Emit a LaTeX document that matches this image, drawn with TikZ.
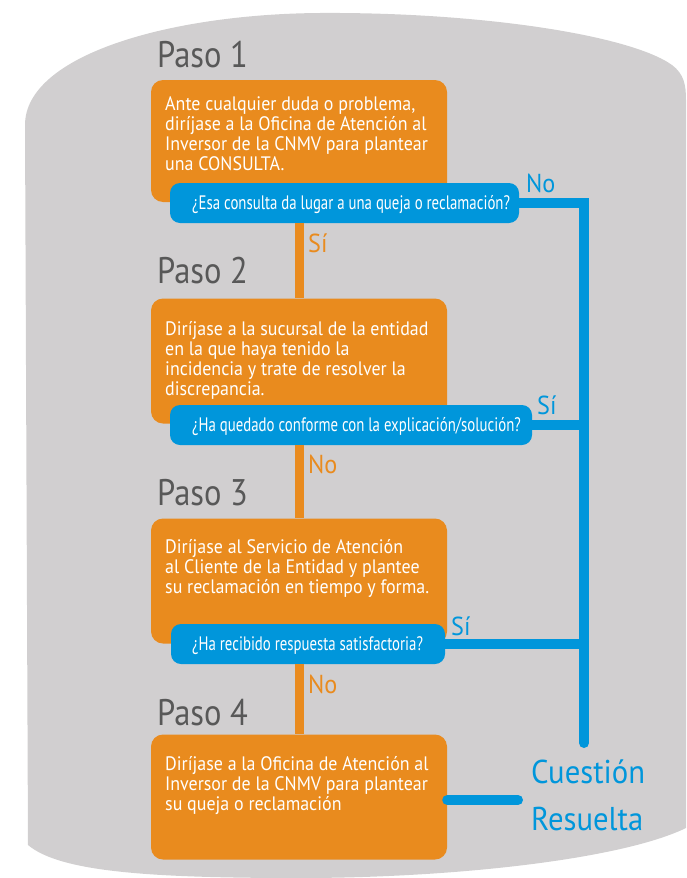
\documentclass[tikz,border=0pt]{standalone}
\usepackage{fontspec}
\setmainfont[FakeStretch=0.93]{PT Sans}
\newfontfamily\boxfont[FakeStretch=0.92]{PT Sans}
\newfontfamily\barfont[FakeStretch=0.76]{PT Sans}
\newfontfamily\pasofont[FakeStretch=0.88]{PT Sans}
\definecolor{bggray}{RGB}{209,207,208}
\definecolor{orng}{RGB}{233,139,30}
\definecolor{blu}{RGB}{0,150,219}
\definecolor{pasogray}{RGB}{88,88,88}
\tikzset{
  obox/.style={fill=orng, rounded corners=12pt, draw=none, minimum width=296pt, inner sep=0pt},
  qbar/.style={fill=blu, rounded corners=10pt, draw=none, minimum height=40pt, inner sep=0pt},
  boxtext/.style={anchor=base west, inner sep=0pt, text=white, font=\boxfont\fontsize{19.5}{20}\selectfont},
  qtext/.style={anchor=base west, inner sep=0pt, text=white, font=\barfont\fontsize{19.5}{20}\selectfont},
  pasolabel/.style={anchor=base west, inner sep=0pt, text=pasogray, font=\pasofont\fontsize{37}{40}\selectfont},
  olabel/.style={anchor=base west, inner sep=0pt, text=orng, font=\fontsize{26}{28}\selectfont},
  blabel/.style={anchor=base west, inner sep=0pt, text=blu, font=\fontsize{26}{28}\selectfont},
  reslabel/.style={anchor=base west, inner sep=0pt, text=blu, font=\fontsize{33}{36}\selectfont},
  oline/.style={draw=orng, line width=9pt},
  bline/.style={draw=blu, line width=10pt}
}
\begin{document}
\begin{tikzpicture}[x=1pt,y=-1pt]
\useasboundingbox (0,0) rectangle (686,878);
% background blob
\fill[bggray] (28,845) -- (25,125)
  .. controls (25,55) and (170,14) .. (320,13)
  .. controls (480,12) and (630,35) .. (672,65)
  .. controls (684,74) and (686,85) .. (686,100)
  -- (686,828)
  .. controls (620,860) and (450,878) .. (300,878)
  .. controls (150,878) and (60,872) .. (28,845) -- cycle;

% step labels
\node[pasolabel] (p1) at (157,67) {Paso 1};
\node[pasolabel] (p2) at (157,283) {Paso 2};
\node[pasolabel] (p3) at (157,505) {Paso 3};
\node[pasolabel] (p4) at (157,725) {Paso 4};

% orange boxes
\node[obox, minimum height=122pt] (b1) at (299,141) {};
\node[obox, minimum height=125pt] (b2) at (299,361) {};
\node[obox, minimum height=125pt] (b3) at (299,581) {};
\node[obox, minimum height=125pt] (b4) at (299,797) {};

% box texts
\node[boxtext] (t1) at (165,110) {\parbox[t]{280pt}{\raggedright Ante cualquier duda o problema,\\ diríjase a la Oficina de Atención al\\ Inversor de la CNMV para plantear\\ una CONSULTA.}};
\node[boxtext] (t2) at (165,335) {\parbox[t]{280pt}{\raggedright Diríjase a la sucursal de la entidad\\ en la que haya tenido la\\ incidencia y trate de resolver la\\ discrepancia.}};
\node[boxtext] (t3) at (165,553) {\parbox[t]{280pt}{\raggedright Diríjase al Servicio de Atención\\ al Cliente de la Entidad y plantee\\ su reclamación en tiempo y forma.}};
\node[boxtext] (t4) at (165,770) {\parbox[t]{280pt}{\raggedright Diríjase a la Oficina de Atención al\\ Inversor de la CNMV para plantear\\ su queja o reclamación}};

% question bars
\node[qbar, minimum width=349pt] (q1) at (344.5,203) {};
\node[qbar, minimum width=362pt] (q2) at (351,425) {};
\node[qbar, minimum width=274pt] (q3) at (308,644) {};
\node[qtext] (q1t) at (192,209.5) {¿Esa consulta da lugar a una queja o reclamación?};
\node[qtext] (q2t) at (192,431.5) {¿Ha quedado conforme con la explicación/solución?};
\node[qtext] (q3t) at (192,650.5) {¿Ha recibido respuesta satisfactoria?};

% trunk coordinates
\coordinate (trtop) at (584,203);
\coordinate (trbot) at (584,743);
\coordinate (stubend) at (518,800);

% orange connectors
\draw[oline] (b1.south |- q1.south) -- (b2.north);
\draw[oline] (b2.south |- q2.south) -- (b3.north);
\draw[oline] (b3.south |- q3.south) -- (b4.north);

% blue connectors
\draw[bline, line cap=round] (q1.east) -- (trtop) -- (trbot);
\draw[bline] (q2.east) -- (q2.east -| trtop);
\draw[bline] (q3.east) -- (q3.east -| trtop);
\draw[bline, line cap=round] (b4.east |- stubend) -- (stubend);

% branch labels
\node[olabel] (s1) at (308,252) {Sí};
\node[olabel] (n2) at (308,473) {No};
\node[olabel] (n3) at (308,693) {No};
\node[blabel] (n1) at (526,192) {No};
\node[blabel] (s2) at (537,414) {Sí};
\node[blabel] (s3) at (451,635) {Sí};

% result
\node[reslabel] (r1) at (531,783) {Cuestión};
\node[reslabel] (r2) at (531,830) {Resuelta};
\end{tikzpicture}
\end{document}
